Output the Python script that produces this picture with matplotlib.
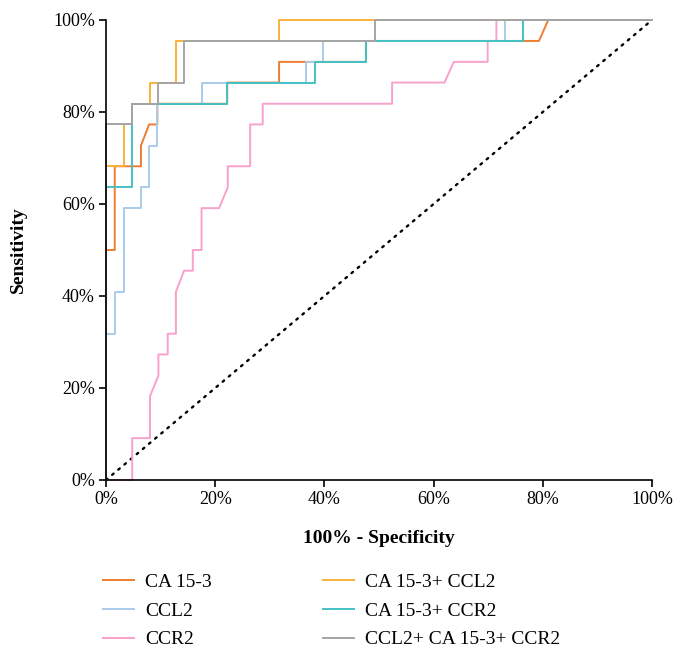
import matplotlib
matplotlib.use("Agg")
import matplotlib.pyplot as plt
from matplotlib.ticker import PercentFormatter

plt.rcParams['font.family'] = ['Liberation Serif', 'DejaVu Serif']

# 100% - Specificity (x) and Sensitivity (y), in percent
ca153_x = [0, 0, 1.6, 1.6, 6.4, 6.4, 7.9, 9.4, 9.4, 22.2, 22.2, 31.7, 31.7, 47.6, 47.6, 79.3, 81.0, 100]
ca153_y = [0, 50.0, 50.0, 68.2, 68.2, 72.7, 77.3, 77.3, 81.8, 81.8, 86.4, 86.4, 90.9, 90.9, 95.45, 95.45, 100, 100]

ccl2_x = [0, 0, 1.6, 1.6, 3.3, 3.3, 6.4, 6.4, 7.9, 7.9, 9.4, 9.4, 17.5, 17.5, 36.6, 36.6, 39.8, 39.8, 73.1, 73.1, 100]
ccl2_y = [0, 31.8, 31.8, 40.9, 40.9, 59.1, 59.1, 63.6, 63.6, 72.7, 72.7, 81.8, 81.8, 86.4, 86.4, 90.9, 90.9, 95.45, 95.45, 100, 100]

ccr2_x = [0, 4.8, 4.8, 8.06, 8.06, 9.6, 9.6, 11.3, 11.3, 12.8, 12.8, 14.3, 15.9, 15.9, 17.5, 17.5, 20.7, 22.3, 22.3,
          26.4, 26.4, 28.7, 28.7, 52.4, 52.4, 62.0, 63.7, 69.9, 69.9, 71.5, 71.5, 100]
ccr2_y = [0, 0, 9.1, 9.1, 18.2, 22.7, 27.3, 27.3, 31.8, 31.8, 40.9, 45.5, 45.5, 50.0, 50.0, 59.1, 59.1, 63.6, 68.2,
          68.2, 77.3, 77.3, 81.8, 81.8, 86.4, 86.4, 90.9, 90.9, 95.45, 95.45, 100, 100]

ca_ccl2_x = [0, 0, 3.3, 3.3, 4.8, 4.8, 8.06, 8.06, 12.8, 12.8, 31.7, 31.7, 100]
ca_ccl2_y = [0, 68.2, 68.2, 77.3, 77.3, 81.8, 81.8, 86.4, 86.4, 95.45, 95.45, 100, 100]

ca_ccr2_x = [0, 0, 4.8, 4.8, 22.2, 22.2, 38.2, 38.2, 47.6, 47.6, 76.3, 76.3, 100]
ca_ccr2_y = [0, 63.6, 63.6, 81.8, 81.8, 86.4, 86.4, 90.9, 90.9, 95.45, 95.45, 100, 100]

all3_x = [0, 0, 4.8, 4.8, 9.5, 9.5, 14.3, 14.3, 49.3, 49.3, 100]
all3_y = [0, 77.3, 77.3, 81.8, 81.8, 86.4, 86.4, 95.45, 95.45, 100, 100]

ref_x = [0, 100]
ref_y = [0, 100]

labels = ["CA 15-3", "CCL2", "CCR2", "CA 15-3+ CCL2", "CA 15-3+ CCR2", "CCL2+ CA 15-3+ CCR2"]
colors = ["#ED7D31", "#A9CBEA", "#F7A1CC", "#F8B23A", "#45C1C4", "#A5A5A5"]
series = [(ca153_x, ca153_y), (ccl2_x, ccl2_y), (ccr2_x, ccr2_y),
          (ca_ccl2_x, ca_ccl2_y), (ca_ccr2_x, ca_ccr2_y), (all3_x, all3_y)]

fig = plt.figure(figsize=(6.86, 6.57), dpi=100)
ax = fig.add_axes([106/686, 1-480/657, (652-106)/686, (480-20)/657])

ax.plot(ref_x, ref_y, color="black", lw=1.7, linestyle=(0, (0.8, 2.6)), dash_capstyle='round', clip_on=False)
handles = []
for (x, y), c, lab in zip(series, colors, labels):
    h, = ax.plot(x, y, color=c, lw=1.4, clip_on=False, label=lab)
    handles.append(h)

ax.set_xlim(0, 100)
ax.set_ylim(0, 100)
ax.set_xticks(range(0, 101, 20))
ax.set_yticks(range(0, 101, 20))
ax.xaxis.set_major_formatter(PercentFormatter(decimals=0))
ax.yaxis.set_major_formatter(PercentFormatter(decimals=0))
for s in ["top", "right"]:
    ax.spines[s].set_visible(False)
for s in ["left", "bottom"]:
    ax.spines[s].set_color("black")
    ax.spines[s].set_linewidth(1.2)
ax.tick_params(axis='both', direction='out', length=5, width=1.2, labelsize=13, colors='black')
ax.tick_params(axis='x', pad=3)
ax.tick_params(axis='y', pad=3)

ax.set_xlabel("100% - Specificity", fontsize=14, fontweight='bold', labelpad=16)
ax.set_ylabel("Sensitivity", fontsize=14, fontweight='bold', labelpad=19)

leg_kw = dict(frameon=False, fontsize=14, handlelength=1.6, handletextpad=0.55,
              labelspacing=0.58, borderaxespad=0, borderpad=0, loc='upper left')
fig.legend(handles[:3], labels[:3], bbox_to_anchor=(103/686, 1-573/657), **leg_kw)
fig.legend(handles[3:], labels[3:], bbox_to_anchor=(323/686, 1-573/657), **leg_kw)

fig.savefig("out.png", dpi=100)
